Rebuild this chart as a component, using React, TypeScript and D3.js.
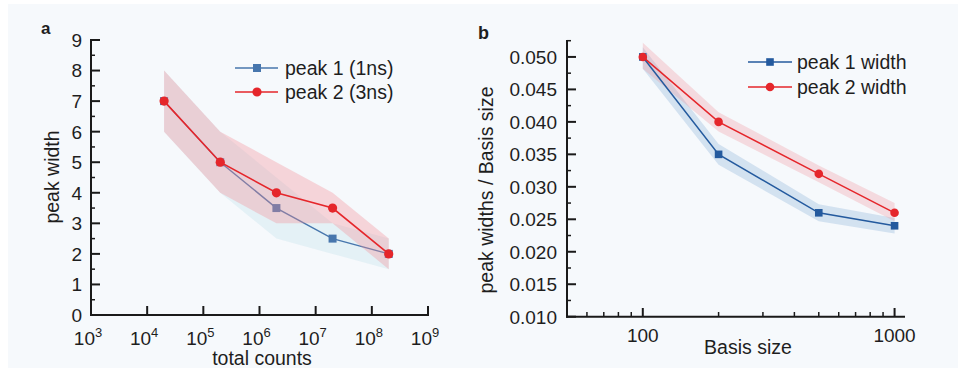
import React from "react";
import * as d3 from "d3";

// ---- Panel a data ----
const countsA = [2e4, 2e5, 2e6, 2e7, 2e8];
const peak1A = [7, 5, 3.5, 2.5, 2];
const peak1ALo = [6, 4, 2.5, 2, 1.5];
const peak1AHi = [8, 6, 4.5, 3, 2.5];
const peak2A = [7, 5, 4, 3.5, 2];
const peak2ALo = [6, 4, 3, 3, 1.5];
const peak2AHi = [8, 6, 5, 4, 2.5];
const yTicksA = [0, 1, 2, 3, 4, 5, 6, 7, 8, 9];
const xExpA = [3, 4, 5, 6, 7, 8, 9];
const legendA = ["peak 1 (1ns)", "peak 2 (3ns)"];

// ---- Panel b data ----
const basisB = [100, 200, 500, 1000];
const peak1B = [0.05, 0.035, 0.026, 0.024];
const peak1BLo = [0.0482, 0.0334, 0.0247, 0.0228];
const peak1BHi = [0.0515, 0.0366, 0.0273, 0.0252];
const peak2B = [0.05, 0.04, 0.032, 0.026];
const peak2BLo = [0.0482, 0.0385, 0.0307, 0.0247];
const peak2BHi = [0.0522, 0.0415, 0.0333, 0.0275];
const yTicksB = [0.01, 0.015, 0.02, 0.025, 0.03, 0.035, 0.04, 0.045, 0.05];
const xTicksB = [100, 1000];
const xMinorB = [60, 70, 80, 90, 200, 300, 400, 500, 600, 700, 800, 900];
const legendB = ["peak 1 width", "peak 2 width"];

const RED = "#e5262b";
const BLUE_A = "#4776ad";
const BLUE_B = "#245a9e";
const AXIS = "#1a1a1a";
const TXT = "#1e1e1e";
const FONT = "'Liberation Sans', Arial, sans-serif";

export default function App() {
  const xA = d3.scaleLog().domain([1e3, 1e9]).range([91, 428]);
  const yA = d3.scaleLinear().domain([0, 9]).range([315, 40]);
  const xB = d3.scaleLog().domain([50, 1100]).range([567, 905]);
  const yB = d3.scaleLinear().domain([0.01, 0.0525]).range([316.7, 40.7]);

  const bandA = (lo: number[], hi: number[]) =>
    d3
      .area<number>()
      .x((_, i) => xA(countsA[i]))
      .y0((_, i) => yA(lo[i]))
      .y1((_, i) => yA(hi[i]))(lo.map((_, i) => i)) || "";
  const lineA = (v: number[]) =>
    d3
      .line<number>()
      .x((_, i) => xA(countsA[i]))
      .y((d) => yA(d))(v) || "";
  const bandB = (lo: number[], hi: number[]) =>
    d3
      .area<number>()
      .x((_, i) => xB(basisB[i]))
      .y0((_, i) => yB(lo[i]))
      .y1((_, i) => yB(hi[i]))(lo.map((_, i) => i)) || "";
  const lineB = (v: number[]) =>
    d3
      .line<number>()
      .x((_, i) => xB(basisB[i]))
      .y((d) => yB(d))(v) || "";

  const minorA = d3.range(0.5, 9, 1);
  const minorB = d3.range(0.0125, 0.0526, 0.005);

  return (
    <svg width={958} height={371} style={{ display: "block", position: "absolute", left: 0, top: 0 }} fontFamily={FONT}>
      <rect x={0} y={0} width={958} height={371} fill="#ffffff" />
      <rect x={8} y={4} width={950} height={364} fill="#f6f9fc" />

      {/* ===== Panel a ===== */}
      <text x={41} y={34} fontSize={17} fontWeight="bold" fill={TXT}>a</text>
      <path d={bandA(peak1ALo, peak1AHi)} fill="#d9ebf2" fillOpacity={0.6} />
      <path d={lineA(peak1A)} fill="none" stroke={BLUE_A} strokeWidth={1.4} />
      {countsA.map((c, i) => (
        <rect key={"s1a" + i} x={xA(c) - 4} y={yA(peak1A[i]) - 4} width={8} height={8} fill={BLUE_A} />
      ))}
      <path d={bandA(peak2ALo, peak2AHi)} fill="#f28d95" fillOpacity={0.34} />
      <path d={lineA(peak2A)} fill="none" stroke={RED} strokeWidth={1.6} />
      {countsA.map((c, i) => (
        <circle key={"c2a" + i} cx={xA(c)} cy={yA(peak2A[i])} r={4.6} fill={RED} />
      ))}
      <line x1={91} x2={91} y1={39} y2={316} stroke={AXIS} strokeWidth={2} />
      <line x1={90} x2={429} y1={315} y2={315} stroke={AXIS} strokeWidth={2} />
      {yTicksA.map((t) => (
        <g key={"ya" + t}>
          <line x1={91} x2={100} y1={yA(t)} y2={yA(t)} stroke={AXIS} strokeWidth={2} />
          <text x={82} y={yA(t)} dy="0.36em" textAnchor="end" fontSize={19} fill={TXT}>{t}</text>
        </g>
      ))}
      {minorA.map((t) => (
        <line key={"yma" + t} x1={91} x2={95} y1={yA(t)} y2={yA(t)} stroke={AXIS} strokeWidth={1.5} />
      ))}
      {xExpA.map((e) => (
        <g key={"xa" + e}>
          <line x1={xA(Math.pow(10, e))} x2={xA(Math.pow(10, e))} y1={315} y2={306} stroke={AXIS} strokeWidth={2} />
          <text x={xA(Math.pow(10, e)) - 3} y={345} textAnchor="middle" fontSize={19} fill={TXT}>
            10
            <tspan dy={-8} fontSize={13}>{e}</tspan>
          </text>
        </g>
      ))}
      <text x={262} y={365} textAnchor="middle" fontSize={19.5} fill={TXT}>total counts</text>
      <text transform="translate(59,177) rotate(-90)" textAnchor="middle" fontSize={19.5} fill={TXT}>peak width</text>
      <line x1={235} x2={278} y1={68} y2={68} stroke={BLUE_A} strokeWidth={1.4} />
      <rect x={253} y={64} width={8} height={8} fill={BLUE_A} />
      <text x={285} y={68} dy="0.36em" fontSize={19.5} fill={TXT}>{legendA[0]}</text>
      <line x1={235} x2={278} y1={92} y2={92} stroke={RED} strokeWidth={1.6} />
      <circle cx={257} cy={92} r={4.6} fill={RED} />
      <text x={285} y={92} dy="0.36em" fontSize={19.5} fill={TXT}>{legendA[1]}</text>

      {/* ===== Panel b ===== */}
      <text x={478} y={39} fontSize={18} fontWeight="bold" fill={TXT}>b</text>
      <path d={bandB(peak1BLo, peak1BHi)} fill="#a9c6e3" fillOpacity={0.45} />
      <path d={bandB(peak2BLo, peak2BHi)} fill="#f28d95" fillOpacity={0.28} />
      <path d={lineB(peak1B)} fill="none" stroke={BLUE_B} strokeWidth={1.5} />
      {basisB.map((c, i) => (
        <rect key={"s1b" + i} x={xB(c) - 3.8} y={yB(peak1B[i]) - 3.8} width={7.6} height={7.6} fill={BLUE_B} />
      ))}
      <path d={lineB(peak2B)} fill="none" stroke={RED} strokeWidth={1.5} />
      {basisB.map((c, i) => (
        <circle key={"c2b" + i} cx={xB(c)} cy={yB(peak2B[i])} r={4.3} fill={RED} />
      ))}
      <line x1={567} x2={567} y1={40} y2={317.7} stroke={AXIS} strokeWidth={2} />
      <line x1={566} x2={905} y1={316.7} y2={316.7} stroke={AXIS} strokeWidth={2} />
      {yTicksB.map((t) => (
        <g key={"yb" + t}>
          <line x1={567} x2={576} y1={yB(t)} y2={yB(t)} stroke={AXIS} strokeWidth={2} />
          <text x={557} y={yB(t)} dy="0.36em" textAnchor="end" fontSize={19} fill={TXT}>{t.toFixed(3)}</text>
        </g>
      ))}
      {minorB.map((t) => (
        <line key={"ymb" + t} x1={567} x2={571} y1={yB(t)} y2={yB(t)} stroke={AXIS} strokeWidth={1.5} />
      ))}
      {xTicksB.map((t) => (
        <g key={"xb" + t}>
          <line x1={xB(t)} x2={xB(t)} y1={316.7} y2={308} stroke={AXIS} strokeWidth={2} />
          <text x={xB(t)} y={342} textAnchor="middle" fontSize={19} fill={TXT}>{t}</text>
        </g>
      ))}
      {xMinorB.map((t) => (
        <line key={"xmb" + t} x1={xB(t)} x2={xB(t)} y1={316.7} y2={312} stroke={AXIS} strokeWidth={1.5} />
      ))}
      <text x={748} y={354} textAnchor="middle" fontSize={19.5} fill={TXT}>Basis size</text>
      <text transform="translate(493,190) rotate(-90)" textAnchor="middle" fontSize={19.5} fill={TXT}>peak widths / Basis size</text>
      <line x1={748} x2={792} y1={62} y2={62} stroke={BLUE_B} strokeWidth={1.5} />
      <rect x={766.2} y={58.2} width={7.6} height={7.6} fill={BLUE_B} />
      <text x={797} y={62} dy="0.36em" fontSize={19.5} fill={TXT}>{legendB[0]}</text>
      <line x1={748} x2={792} y1={87} y2={87} stroke={RED} strokeWidth={1.5} />
      <circle cx={770} cy={87} r={4.3} fill={RED} />
      <text x={797} y={87} dy="0.36em" fontSize={19.5} fill={TXT}>{legendB[1]}</text>
    </svg>
  );
}
